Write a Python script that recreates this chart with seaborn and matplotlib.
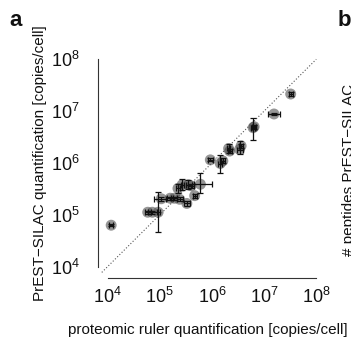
import numpy as np
import pandas as pd
import matplotlib
matplotlib.use("Agg")
import matplotlib.pyplot as plt
import seaborn as sns

# ---- data (log10 copies/cell) ----
x_log10 = [4.07, 4.77, 4.86, 4.97, 5.03, 5.20, 5.28, 5.35, 5.38, 5.43, 5.52, 5.55, 5.60,
           5.67, 5.78, 5.97, 6.16, 6.21, 6.32, 6.34, 6.53, 6.56, 6.79, 6.81, 7.19, 7.51]
y_log10 = [4.80, 5.05, 5.05, 5.05, 5.31, 5.32, 5.32, 5.51, 5.30, 5.58, 5.22, 5.58, 5.56,
           5.37, 5.59, 6.06, 5.99, 6.04, 6.28, 6.23, 6.26, 6.33, 6.68, 6.70, 6.945, 7.33]
x_lo_log10 = [4.03, 4.72, 4.78, 4.94, 4.89, 5.14, 5.22, 5.32, 5.34, 5.40, 5.46, 5.50, 5.55,
              5.63, 5.65, 5.92, 6.12, 6.17, 6.29, 6.30, 6.48, 6.52, 6.75, 6.77, 7.08, 7.47]
x_hi_log10 = [4.11, 4.83, 4.96, 5.00, 5.12, 5.26, 5.34, 5.38, 5.44, 5.46, 5.58, 5.62, 5.66,
              5.71, 6.00, 6.03, 6.20, 6.25, 6.35, 6.38, 6.59, 6.60, 6.83, 6.85, 7.31, 7.55]
y_lo_log10 = [4.78, 5.02, 5.02, 4.67, 5.27, 5.29, 5.29, 5.42, 5.26, 5.48, 5.17, 5.50, 5.52,
              5.33, 5.42, 6.03, 5.80, 6.00, 6.20, 6.19, 6.18, 6.29, 6.44, 6.66, 6.92, 7.29]
y_hi_log10 = [4.82, 5.08, 5.08, 5.45, 5.35, 5.35, 5.35, 5.60, 5.34, 5.70, 5.27, 5.68, 5.60,
              5.41, 5.80, 6.09, 6.15, 6.09, 6.36, 6.27, 6.42, 6.37, 6.86, 6.74, 6.97, 7.37]
tick_exponents = [4, 5, 6, 7, 8]
tick_labels = [r"$\mathregular{10^{%d}}$" % e for e in tick_exponents]

x = 10 ** np.array(x_log10)
y = 10 ** np.array(y_log10)
xerr = np.vstack([x - 10 ** np.array(x_lo_log10), 10 ** np.array(x_hi_log10) - x])
yerr = np.vstack([y - 10 ** np.array(y_lo_log10), 10 ** np.array(y_hi_log10) - y])
df = pd.DataFrame({"ruler": x, "prest": y})

sns.set_theme(style="white")
plt.rcParams["font.family"] = ["Liberation Sans", "DejaVu Sans"]
plt.rcParams["mathtext.fontset"] = "custom"
plt.rcParams["mathtext.rm"] = "Liberation Sans"

W, H = 351, 340
fig = plt.figure(figsize=(W / 100, H / 100), dpi=100)
fig.patch.set_facecolor("white")
# axes placement in pixels
left_px, right_px, bottom_px, top_px = 97.5, 326.7, 278.0, 48.9
ax = fig.add_axes([left_px / W, (H - bottom_px) / H,
                   (right_px - left_px) / W, (bottom_px - top_px) / H])
ax.set_facecolor("white")
ax.set_xscale("log")
ax.set_yscale("log")
ax.set_xlim(10 ** 3.808, 10 ** 8.2)
ax.set_ylim(10 ** 3.782, 10 ** 8.2)

# identity line
ax.plot([10 ** 3.89, 10 ** 8.0], [10 ** 3.89, 10 ** 8.0], color="#555555",
        lw=0.8, linestyle=(0, (1, 1.8)), zorder=1)

sns.scatterplot(data=df, x="ruler", y="prest", ax=ax, s=62, color="#505050",
                alpha=0.6, edgecolor="none", linewidth=0, zorder=2, legend=False)
ax.errorbar(x, y, xerr=xerr, yerr=yerr, fmt="none", ecolor="#111111",
            elinewidth=0.9, capsize=2.2, capthick=0.9, zorder=3)

ticks = [10.0 ** e for e in tick_exponents]
ax.xaxis.set_major_locator(matplotlib.ticker.FixedLocator(ticks))
ax.yaxis.set_major_locator(matplotlib.ticker.FixedLocator(ticks))
ax.xaxis.set_major_formatter(matplotlib.ticker.FixedFormatter(tick_labels))
ax.yaxis.set_major_formatter(matplotlib.ticker.FixedFormatter(tick_labels))
ax.xaxis.set_minor_locator(matplotlib.ticker.NullLocator())
ax.yaxis.set_minor_locator(matplotlib.ticker.NullLocator())

for s in ["top", "right"]:
    ax.spines[s].set_visible(False)
for s in ["left", "bottom"]:
    ax.spines[s].set_color("#333333")
    ax.spines[s].set_linewidth(0.8)
    ax.spines[s].set_bounds(1e4, 1e8)

ax.tick_params(axis="both", which="major", direction="out", length=3.6, width=0.8,
               color="#333333", labelsize=13, labelcolor="#111111")
ax.tick_params(axis="x", pad=2.5)
ax.tick_params(axis="y", pad=9.5)
ax.set_xlabel("")
ax.set_ylabel("")

fig.text(208 / W, 1 - 330 / H, "proteomic ruler quantification [copies/cell]",
         ha="center", va="center", fontsize=11, color="#111111")
fig.text(40 / W, 1 - 163 / H, "PrEST−SILAC quantification [copies/cell]",
         ha="center", va="center", rotation=90, fontsize=11, color="#111111")
fig.text(16 / W, 1 - 21 / H, "a", ha="center", va="center", fontsize=16,
         fontweight="bold", color="#111111")
fig.text(344 / W, 1 - 21 / H, "b", ha="center", va="center", fontsize=16,
         fontweight="bold", color="#111111")
fig.text(349 / W, 1 - 170 / H, "# peptides PrEST−SILAC", ha="center", va="center",
         rotation=90, fontsize=11, color="#111111")

fig.savefig("out.png", dpi=100, facecolor="white")
